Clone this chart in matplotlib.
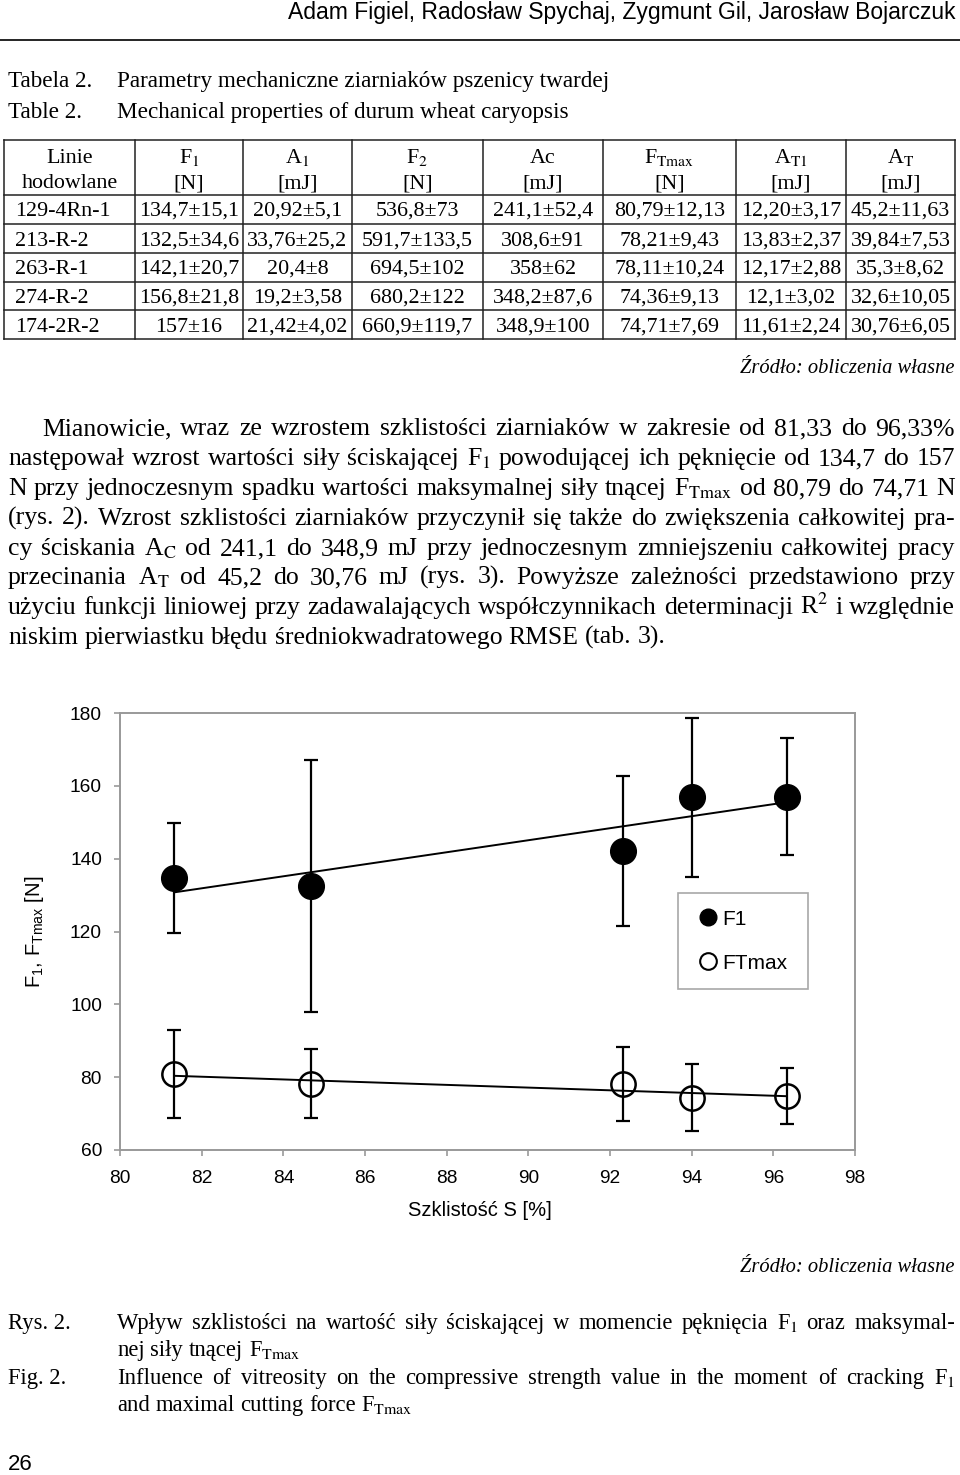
import matplotlib
matplotlib.use('Agg')
import matplotlib.pyplot as plt
import numpy as np
from matplotlib.lines import Line2D

SERIF = 'Liberation Serif'
SANS = 'Liberation Sans'
plt.rcParams['font.family'] = [SANS, 'DejaVu Sans']
plt.rcParams['mathtext.fontset'] = 'custom'
plt.rcParams['mathtext.rm'] = SANS
plt.rcParams['mathtext.it'] = SANS + ':italic'
plt.rcParams['mathtext.bf'] = SANS + ':bold'

# ---------------- data ----------------
vitreosity = [81.33, 84.67, 92.33, 94.0, 96.33]
f1_mean = [134.7, 132.5, 142.1, 156.8, 157.0]
f1_sd = [15.1, 34.6, 20.7, 21.8, 16.0]
ftmax_mean = [80.79, 78.21, 78.11, 74.36, 74.71]
ftmax_sd = [12.13, 9.43, 10.24, 9.13, 7.69]

x_ticks = [80, 82, 84, 86, 88, 90, 92, 94, 96, 98]
y_ticks = [60, 80, 100, 120, 140, 160, 180]

breeding_lines = ['129-4Rn-1', '213-R-2', '263-R-1', '274-R-2', '174-2R-2']
col_F1 = ['134,7±15,1', '132,5±34,6', '142,1±20,7', '156,8±21,8', '157±16']
col_A1 = ['20,92±5,1', '33,76±25,2', '20,4±8', '19,2±3,58', '21,42±4,02']
col_F2 = ['536,8±73', '591,7±133,5', '694,5±102', '680,2±122', '660,9±119,7']
col_Ac = ['241,1±52,4', '308,6±91', '358±62', '348,2±87,6', '348,9±100']
col_FTmax = ['80,79±12,13', '78,21±9,43', '78,11±10,24', '74,36±9,13', '74,71±7,69']
col_AT1 = ['12,20±3,17', '13,83±2,37', '12,17±2,88', '12,1±3,02', '11,61±2,24']
col_AT = ['45,2±11,63', '39,84±7,53', '35,3±8,62', '32,6±10,05', '30,76±6,05']

header_top = ['Linie', 'F$_1$', 'A$_1$', 'F$_2$', 'Ac', 'F$_{\\mathrm{Tmax}}$',
              'A$_{\\mathrm{T1}}$', 'A$_{\\mathrm{T}}$']
header_bottom = ['hodowlane', '[N]', '[mJ]', '[N]', '[mJ]', '[N]', '[mJ]', '[mJ]']

authors = 'Adam Figiel, Radosław Spychaj, Zygmunt Gil, Jarosław Bojarczuk'
source_note = 'Źródło: obliczenia własne'

paragraph = [
    'Mianowicie, wraz ze wzrostem szklistości ziarniaków w zakresie od 81,33 do 96,33%',
    'następował wzrost wartości siły ściskającej F$_1$ powodującej ich pęknięcie od 134,7 do 157',
    'N przy jednoczesnym spadku wartości maksymalnej siły tnącej F$_{\\mathrm{Tmax}}$ od 80,79 do 74,71 N',
    '(rys. 2). Wzrost szklistości ziarniaków przyczynił się także do zwiększenia całkowitej pra-',
    'cy ściskania A$_{\\mathrm{C}}$ od 241,1 do 348,9 mJ przy jednoczesnym zmniejszeniu całkowitej pracy',
    'przecinania A$_{\\mathrm{T}}$ od 45,2 do 30,76 mJ (rys. 3). Powyższe zależności przedstawiono przy',
    'użyciu funkcji liniowej przy zadawalających współczynnikach determinacji R$^2$ i względnie',
    'niskim pierwiastku błędu średniokwadratowego RMSE (tab. 3).',
]

# ---------------- figure ----------------
W, H = 960, 1475
fig = plt.figure(figsize=(W / 100, H / 100), dpi=100, facecolor='white')
bg = fig.add_axes([0, 0, 1, 1])
bg.set_xlim(0, W)
bg.set_ylim(H, 0)
bg.axis('off')
renderer = fig.canvas.get_renderer()


def stext(x, y, s, size, **kw):
    kw.setdefault('family', SERIF)
    kw.setdefault('va', 'baseline')
    return bg.text(x, round(y), s, fontsize=size, math_fontfamily='stix', **kw)


def justified(s, x0, x1, y, size, justify=True):
    words = s.split(' ')
    texts = [stext(0, y, w, size, ha='left') for w in words]
    widths = [t.get_window_extent(renderer).width for t in texts]
    if justify and len(words) > 1:
        gap = (x1 - x0 - sum(widths)) / (len(words) - 1)
    else:
        gap = size * 100 / 72 * 0.25
    x = x0
    for t, w in zip(texts, widths):
        t.set_x(x)
        x += w + gap


# header
bg.text(955, 19, authors, fontsize=16.5, family=SANS, ha='right', va='baseline')
bg.plot([0, W], [40, 40], color='black', lw=1.2)

# table title
TS = 16.7
stext(8, 87, 'Tabela 2.', TS)
stext(117, 87, 'Parametry mechaniczne ziarniaków pszenicy twardej', TS)
stext(8, 118, 'Table 2.', TS)
stext(117, 118, 'Mechanical properties of durum wheat caryopsis', TS)

# table
col_edges = [4, 135, 243, 352, 483, 603, 736, 846, 955]
row_edges = [140, 195, 224, 253, 282, 310, 339]
for xe in col_edges:
    bg.plot([xe, xe], [row_edges[0], row_edges[-1]], color='#222222', lw=1.1)
for ye in row_edges:
    bg.plot([col_edges[0], col_edges[-1]], [ye, ye], color='#222222', lw=1.1)

CS = 15.8
centers = [(a + b) / 2 for a, b in zip(col_edges[:-1], col_edges[1:])]
for c, top, bot in zip(centers, header_top, header_bottom):
    stext(c, 163, top, CS, ha='center')
    stext(c, 188, bot, CS, ha='center')

columns = [col_F1, col_A1, col_F2, col_Ac, col_FTmax, col_AT1, col_AT]
for i, name in enumerate(breeding_lines):
    yb = round((row_edges[i + 1] + row_edges[i + 2]) / 2 + 7)
    stext(15, yb, name, CS, ha='left')
    for c, col in zip(centers[1:], columns):
        stext(c, yb, col[i], CS, ha='center')

stext(955, 373, source_note, 14.8, ha='right', style='italic')

# paragraph
for k, line in enumerate(paragraph):
    yb = 435 + 29.9 * k
    x0 = 42 if k == 0 else 8
    justified(line, x0, 955, yb, 18.5, justify=(k < len(paragraph) - 1))

# ---------------- chart ----------------
AX_T, AX_B, AX_L, AX_R = 713, 1150, 120, 855
ax = fig.add_axes([AX_L / W, 1 - AX_B / H, (AX_R - AX_L) / W, (AX_B - AX_T) / H])
ax.set_xlim(80, 98)
ax.set_ylim(60, 180)
ax.set_xticks(x_ticks)
ax.set_yticks(y_ticks)
for sp in ax.spines.values():
    sp.set_color('#999999')
    sp.set_linewidth(1.4)
ax.tick_params(direction='out', length=4.5, width=1.2, color='#999999',
               labelsize=13.8, labelcolor='black')
ax.tick_params(axis='x', pad=10)
ax.tick_params(axis='y', pad=8.5)

for mean, sd in ((f1_mean, f1_sd), (ftmax_mean, ftmax_sd)):
    ax.errorbar(vitreosity, mean, yerr=sd, fmt='none', ecolor='black',
                elinewidth=1.6, capsize=5, capthick=1.6, zorder=3)
    coef = np.polyfit(vitreosity, mean, 1)
    xs = np.array([min(vitreosity), max(vitreosity)])
    ax.plot(xs, np.polyval(coef, xs), color='black', lw=1.4, zorder=3)

ax.plot(vitreosity, f1_mean, 'o', ms=18.5, color='black', ls='none', zorder=5)
ax.plot(vitreosity, ftmax_mean, 'o', ms=17.5, mfc='none', mec='black', mew=1.8,
        ls='none', zorder=5)

span_x = AX_R - AX_L
span_y = AX_B - AX_T
handles = [Line2D([], [], marker='o', ls='none', color='black', ms=12),
           Line2D([], [], marker='o', ls='none', mfc='white', mec='black', mew=1.5, ms=12)]
leg_w = (808 - 678) / span_x
leg_h = (990 - 893) / span_y
leg = ax.legend(handles, ['F1', 'FTmax'], loc='upper left', mode='expand',
                bbox_to_anchor=((678 - AX_L) / span_x, (AX_B - 990) / span_y, leg_w, leg_h),
                frameon=True, fancybox=False, edgecolor='#a8a8a8', framealpha=1,
                handletextpad=0.0, handlelength=1.3, borderpad=0.8,
                labelspacing=1.2, borderaxespad=0, prop={'family': SANS, 'size': 15})
leg.get_frame().set_linewidth(1.2)

ax.set_xlabel('Szklistość S [%]', fontsize=14.5)
ax.xaxis.set_label_coords(0.49, -(1201 - AX_B) / span_y)
ax.set_ylabel('F$_1$, F$_{\\mathrm{Tmax}}$ [N]', fontsize=14.5)
ax.yaxis.set_label_coords(-(AX_L - 46) / span_x, 0.5)

# caption
CP = 16.3
stext(955, 1272, source_note, 14.8, ha='right', style='italic')
stext(8, 1329, 'Rys. 2.', CP)
justified('Wpływ szklistości na wartość siły ściskającej w momencie pęknięcia F$_1$ oraz maksymal-',
          117, 955, 1329, CP)
justified('nej siły tnącej F$_{\\mathrm{Tmax}}$', 117, 955, 1356, CP, justify=False)
stext(8, 1384, 'Fig. 2.', CP)
justified('Influence of vitreosity on the compressive strength value in the moment of cracking F$_1$',
          117, 955, 1384, CP)
justified('and maximal cutting force F$_{\\mathrm{Tmax}}$', 117, 955, 1411, CP, justify=False)

bg.text(8, 1470, '26', fontsize=16, family=SANS, ha='left', va='baseline')

fig.savefig('out.png', dpi=100, facecolor='white')
